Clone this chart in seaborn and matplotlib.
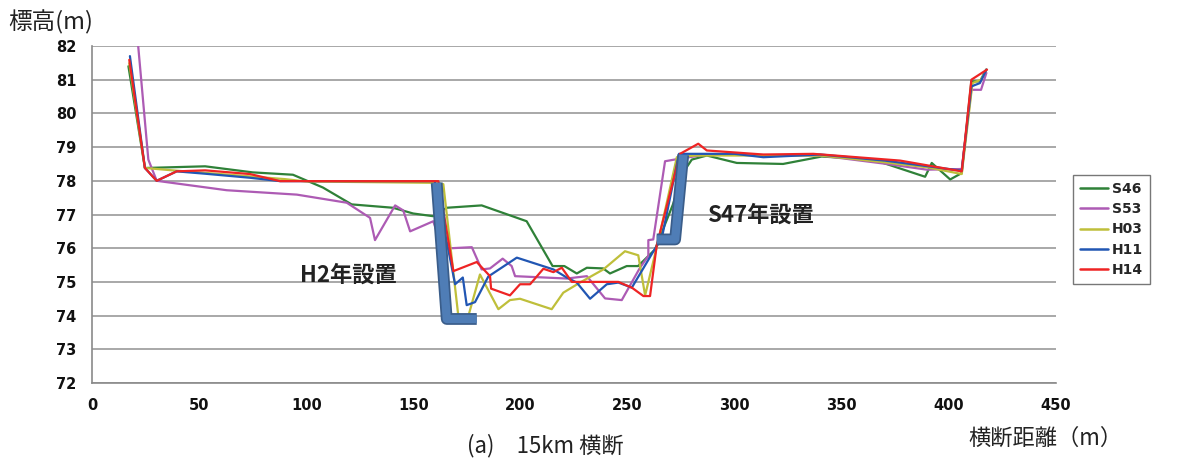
import numpy as np
import pandas as pd
import matplotlib
matplotlib.use("Agg")
import matplotlib.pyplot as plt
import matplotlib.patheffects as pe
import seaborn as sns

# Cross-section survey lines (distance m, elevation m)
s46_x = [17, 24.7, 52.8, 75, 93.8, 107.8, 121.2, 140.5, 149.9, 159.2, 165.6, 181.9, 202.9, 215, 220.5,
         226.3, 231, 238.6, 241.8, 249.6, 254.9, 262.8, 271.2, 275.9, 280, 287, 301, 322.6, 340.6,
         364.6, 388.9, 392, 400.6, 406, 410.5, 414.5, 417.4]
s46_y = [81.4, 78.38, 78.43, 78.25, 78.18, 77.8, 77.3, 77.2, 77.03, 76.95, 77.2, 77.27, 76.8, 75.47, 75.47,
         75.25, 75.42, 75.4, 75.25, 75.47, 75.47, 75.96, 77.3, 78.24, 78.63, 78.75, 78.53, 78.5, 78.72,
         78.63, 78.12, 78.53, 78.04, 78.23, 80.95, 80.95, 81.3]

s53_x = [21, 26.3, 30.2, 62.9, 95.6, 118.9, 129.8, 132.1, 141.5, 145.3, 148.5, 159.3, 163.5, 167.9,
         177.3, 181.9, 185.8, 191.7, 195.9, 197.5, 221.6, 231, 239.5, 247.3, 255.8, 259.7, 259.7, 262,
         267.5, 273.7, 287, 340, 371, 389.7, 406, 410.5, 415, 417.5]
s53_y = [82.4, 78.63, 78.0, 77.72, 77.59, 77.35, 76.9, 76.24, 77.27, 77.12, 76.5, 76.8, 76.0, 76.0,
         76.03, 75.37, 75.4, 75.69, 75.47, 75.17, 75.1, 75.17, 74.51, 74.46, 75.42, 75.77, 76.24, 76.26,
         78.58, 78.65, 78.78, 78.75, 78.5, 78.33, 78.35, 80.7, 80.7, 81.2]

h03_x = [17.4, 24.7, 39.5, 60, 90, 100, 159.3, 164, 171, 175.7, 181.1, 189.7, 195.1, 199.8, 214.6,
         220, 227.8, 238.7, 248.8, 255, 258.2, 265, 273, 282, 340, 370, 390, 406, 411, 415, 417.5]
h03_y = [81.49, 78.38, 78.3, 78.2, 78.05, 77.98, 77.94, 77.9, 73.99, 73.99, 75.22, 74.19, 74.46, 74.5, 74.19,
         74.68, 74.98, 75.37, 75.91, 75.79, 74.6, 76.4, 78.7, 78.75, 78.75, 78.55, 78.4, 78.2, 80.9, 81.0, 81.3]

h11_x = [17.7, 24.7, 30.2, 39.5, 52.8, 73.8, 87.8, 160, 169.5, 173.1, 174.9, 178.8, 185, 198.3, 215.4,
         221.6, 226.3, 232.5, 240.3, 245.7, 252, 262, 266, 274, 300, 313.4, 340, 370, 406, 410.5,
         414.5, 417.5]
h11_y = [81.7, 78.38, 78.0, 78.28, 78.21, 78.09, 77.99, 77.99, 74.93, 75.13, 74.31, 74.4, 75.16, 75.72, 75.37,
         75.13, 74.98, 74.5, 74.93, 74.98, 74.83, 75.9, 76.3, 78.8, 78.8, 78.7, 78.78, 78.6, 78.3, 80.8,
         80.9, 81.3]

h14_x = [17.4, 24.7, 30.2, 39.5, 52.8, 73.8, 87.8, 161.7, 168.7, 179.6, 185.8, 186.3, 195.1, 199.8,
         204.5, 210.7, 215.4, 219.3, 224, 245.7, 252, 257.4, 260.5, 263.6, 274.5, 283, 287, 313.4,
         336.7, 377.2, 406, 410.5, 417.8]
h14_y = [81.59, 78.38, 78.0, 78.28, 78.31, 78.2, 77.99, 77.99, 75.32, 75.59, 75.17, 74.8, 74.6, 74.93,
         74.93, 75.39, 75.29, 75.42, 75.0, 75.0, 74.83, 74.58, 74.58, 76.08, 78.8, 79.1, 78.9, 78.78,
         78.8, 78.6, 78.28, 81.0, 81.3]

series_names = ["S46", "S53", "H03", "H11", "H14"]
series_colors = ["#2f8138", "#ad5bb4", "#bfbf3a", "#2156b3", "#ee2424"]

# Revetment outlines (H2 and S47 installations)
h2_wall_x = [160.9, 165.6, 179.6]
h2_wall_y = [77.94, 73.9, 73.9]
s47_wall_x = [276.0, 272.2, 263.6]
s47_wall_y = [78.77, 76.26, 76.26]

x_ticks = [0, 50, 100, 150, 200, 250, 300, 350, 400, 450]
y_ticks = [72, 73, 74, 75, 76, 77, 78, 79, 80, 81, 82]

frames = []
for name, xs, ys in zip(series_names,
                        [s46_x, s53_x, h03_x, h11_x, h14_x],
                        [s46_y, s53_y, h03_y, h11_y, h14_y]):
    frames.append(pd.DataFrame({"dist": xs, "elev": ys, "year": name}))
df = pd.concat(frames, ignore_index=True)

sns.set_theme(style="white")
plt.rcParams["font.family"] = ["DejaVu Sans", "Noto Sans CJK JP"]

fig = plt.figure(figsize=(11.95, 4.61), dpi=100)
ax = fig.add_axes([92 / 1195, 1 - 383 / 461, (1056 - 92) / 1195, (383 - 46) / 461])

for yt in y_ticks:
    ax.axhline(yt, color="#a8a8a8", lw=1.4, zorder=0)

widths = {"S46": 1.5, "S53": 1.5, "H03": 1.5, "H11": 1.6, "H14": 1.8}
sns.lineplot(data=df, x="dist", y="elev", hue="year", hue_order=series_names,
             palette=series_colors, estimator=None, sort=False,
             linewidth=1.6, ax=ax, legend=True, zorder=3)
for line, name in zip(ax.get_lines()[-len(series_names):], series_names):
    line.set_linewidth(widths[name])

wall_fx = [pe.Stroke(linewidth=8.5, foreground="#3a5d8a"), pe.Normal()]
for wx, wy in [(h2_wall_x, h2_wall_y), (s47_wall_x, s47_wall_y)]:
    ax.plot(wx, wy, color="#4f7db6", lw=6.0, solid_capstyle="butt",
            solid_joinstyle="round", zorder=5, path_effects=wall_fx)

ax.text(119.5, 75.2, "H2年設置", fontsize=16, fontweight="bold", color="#222222",
        ha="center", va="center", family=["Noto Sans CJK JP"], zorder=6)
ax.text(312, 76.97, "S47年設置", fontsize=16, fontweight="bold", color="#222222",
        ha="center", va="center", family=["Noto Sans CJK JP"], zorder=6)

ax.set_xlim(0, 450)
ax.set_ylim(72, 82)
ax.set_xticks(x_ticks)
ax.set_yticks(y_ticks)
ax.set_xticklabels([str(v) for v in x_ticks], fontsize=10.5, fontweight="bold", color="#111111")
ax.set_yticklabels([str(v) for v in y_ticks], fontsize=10.5, fontweight="bold", color="#111111")
ax.tick_params(axis="both", direction="out", length=5, width=1, color="#8a8a8a", pad=6)
ax.set_xlabel("")
ax.set_ylabel("")
for side in ["top", "right"]:
    ax.spines[side].set_visible(False)
for side in ["left", "bottom"]:
    ax.spines[side].set_color("#8a8a8a")
    ax.spines[side].set_linewidth(1.2)
ax.grid(False)

handles, labels = ax.get_legend_handles_labels()
ax.get_legend().remove()
leg = fig.legend(handles, labels, loc="upper left",
                 bbox_to_anchor=(1066 / 1195, 1 - 168 / 461),
                 frameon=True, fancybox=False, edgecolor="#555555",
                 prop={"weight": "bold", "size": 10}, handlelength=2.0,
                 handletextpad=0.3, labelspacing=0.45, borderpad=0.5)
leg.get_frame().set_linewidth(1.0)
for h in leg.legend_handles:
    h.set_linewidth(1.8)

fig.text(8 / 1195, 1 - 22 / 461, "標高(m)", fontsize=17, family=["Noto Sans CJK JP"],
         ha="left", va="center", color="#222222")
fig.text(545 / 1195, 1 - 446 / 461, "(a)\u300015km 横断", fontsize=16,
         family=["Noto Sans CJK JP"], ha="center", va="center", color="#222222")
fig.text(1045 / 1195, 1 - 438 / 461, "横断距離（m）", fontsize=16,
         family=["Noto Sans CJK JP"], ha="center", va="center", color="#222222")

fig.savefig("out.png", dpi=100, facecolor="white")
